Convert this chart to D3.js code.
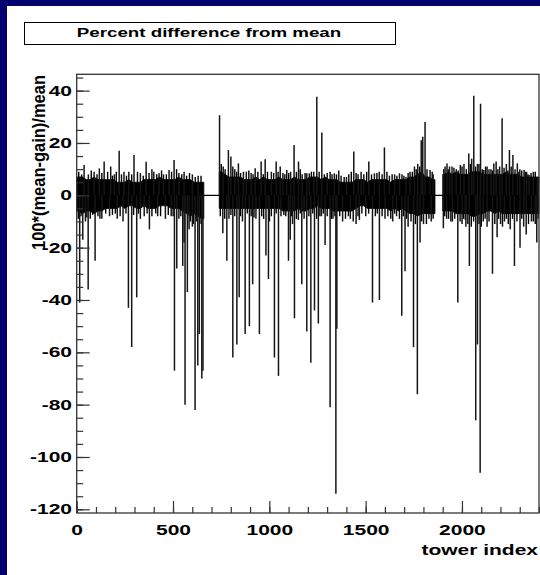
<!DOCTYPE html>
<html>
<head>
<meta charset="utf-8">
<script src="https://cdn.jsdelivr.net/npm/d3@7"></script>
<style>
  html, body { margin: 0; padding: 0; background: #02026e; }
  #chart { width: 540px; height: 575px; }
  text { font-family: "Liberation Sans", Arial, Helvetica, sans-serif; font-weight: bold; fill: #000; }
</style>
</head>
<body>
<div id="chart"></div>
<script>
// tower range and band column width (towers)
const towerRange = [0, 2400]
const bandStep = 20

// dense core of the histogram, one entry per 20 towers (0 = no data)
const bandTop = [
  7,7,6,6,7,6,6,6,
  6,6,5,5,5,6,5,5,5,6,6,
  6,6,7,6,6,6,6,7,6,
  6,6,5,5,5,
  0,0,0,0,
  9,8,7,7,
  7,7,6,6,6,7,6,7,6,6,6,7,6,6,
  6,7,6,6,6,
  7,7,7,6,7,6,6,6,5,
  5,5,5,6,6,6,5,6,
  6,6,6,6,5,6,6,6,6,
  7,7,8,9,7,7,6,
  0,0,
  8,9,8,9,8,8,8,9,9,9,8,8,
  8,8,8,8,9,8,8,8,7,7,7,7,7
]
const bandBot = [
  -6,-7,-6,-6,-7,-6,-6,-5,
  -5,-5,-5,-4,-5,-4,-4,-5,-5,-4,-5,
  -5,-5,-4,-4,-4,-5,-5,-5,-6,
  -7,-8,-7,-8,-9,
  0,0,0,0,
  -5,-5,-5,-5,
  -5,-5,-5,-5,-5,-5,-5,-5,-5,-5,-5,-5,-6,-6,
  -6,-6,-5,-6,-6,
  -5,-5,-4,-5,-5,-5,-6,-6,-6,
  -6,-6,-6,-5,-4,-4,-5,-5,
  -5,-5,-5,-5,-6,-5,-6,-5,-6,
  -7,-7,-8,-7,-7,-7,-7,
  0,0,
  -6,-6,-6,-7,-7,-7,-7,-8,-8,-7,-7,-6,
  -6,-7,-6,-7,-7,-7,-7,-7,-7,-7,-7,-7,-7
]

// single towers sticking out of the band: [tower, value]
const spikesUp = [
  [38,11.6],[60,8],[90,9],[117,10.3],[142,12.9],[176,11],[195,8],[220,17],[245,9],[270,9],[297,15.4],
  [330,8.5],[360,12.8],[400,9],[427,8.4],[450,8],[479,9.7],[505,13.5],[530,8.5],[557,9],[600,8],[630,7.5],
  [741,30.6],[760,11],[787,17.3],[800,14.8],[820,10],[839,12.2],[865,9],[880,9],[905,8.5],[926,10.3],
  [957,12.9],[978,13.8],[1010,9],[1035,12.9],[1056,11],[1070,8.5],[1090,9.7],[1110,9],[1128,19.2],
  [1151,12.9],[1170,8],[1194,8.4],[1207,8.4],[1230,9],[1246,37.7],[1272,24],[1300,8.5],[1337,8.4],
  [1360,9.5],[1400,7],[1438,16.7],[1460,8],[1476,9],[1490,8],[1516,12.9],[1545,8.4],[1570,9],[1597,18.3],
  [1623,7.5],[1650,8],[1675,8.4],[1709,7],[1730,9],[1753,11],[1770,12],[1788,21],[1796,22.4],[1808,28],
  [1834,9.7],[1850,8],[1905,10],[1922,12.2],[1935,11],[1948,11],[1970,10],[1991,11.6],[2010,12],[2035,16],
  [2050,14],[2061,38],[2080,12],[2096,35],[2113,9.7],[2130,11],[2150,10],[2165,12.2],[2177,12.9],[2195,11],
  [2208,29.4],[2230,12],[2246,17.3],[2264,15.4],[2287,12.2],[2300,10],[2322,9.7],[2335,9],[2348,7.8],
  [2370,9],[2391,7]
]
const spikesDown = [
  [15,-41],[31,-17],[45,-10],[59,-36],[95,-25],[130,-9],[170,-8],[210,-9],[240,-10],[268,-43],[285,-58],
  [311,-39],[330,-9],[350,-8],[377,-13],[420,-8],[460,-9],[490,-8],[507,-67],[519,-28],[550,-27],[557,-18],
  [562,-80],[574,-37],[583,-13],[600,-12],[614,-82],[628,-65],[636,-53],[649,-70],[655,-67],
  [758,-14.5],[779,-25],[790,-9],[810,-62],[831,-57],[843,-39],[860,-10],[874,-53],[896,-50],[913,-34],
  [930,-9],[948,-53],[982,-23],[995,-32],[1000,-10],[1026,-62],[1047,-69],[1060,-8],[1099,-25],[1108,-17],
  [1120,-11],[1130,-47],[1150,-9.4],[1168,-34],[1180,-9],[1194,-52],[1215,-64],[1234,-44],[1254,-49],
  [1270,-8],[1289,-19],[1315,-81],[1330,-9],[1345,-114],[1350,-51],[1380,-10],[1420,-9],[1450,-11],
  [1467,-9.4],[1500,-8],[1535,-41],[1571,-40],[1600,-9],[1640,-10],[1660,-8],[1687,-46],[1704,-29],
  [1720,-12],[1748,-58],[1768,-76],[1782,-18],[1800,-11],[1840,-10],
  [1903,-12.6],[1920,-9],[1950,-10],[1978,-41],[2000,-11],[2017,-9.4],[2020,-12],[2038,-27],[2071,-86],
  [2080,-57],[2094,-106],[2110,-10],[2130,-12],[2158,-30],[2182,-16],[2200,-11],[2220,-10],[2250,-13],
  [2272,-27],[2301,-20],[2320,-12],[2333,-15],[2360,-10],[2380,-11],[2388,-18]
]

// smaller excursions that make the band edge ragged: [tower, value]
const fuzzUp = [
  [10,9],[25,8],[75,9.5],[105,8],[130,8.5],[160,9],[185,7.5],[205,9],[232,8],[258,7.5],[285,8],[315,9],
  [345,7.5],[375,8.5],[390,10],[415,8],[440,9.5],[465,8],[492,9],[518,10],[545,8],[570,7.5],[585,8.5],
  [615,7],[645,7.5],
  [750,12],[770,10],[810,11],[830,9],[850,8.5],[893,9.5],[915,8],[940,9],[968,8],[990,9],[1022,8.5],
  [1045,9],[1080,8],[1100,8.5],[1140,9],[1160,10],[1185,8.5],[1218,9],[1258,9],[1285,8],[1315,9],
  [1325,8],[1348,8],[1372,7.5],[1388,7],[1412,8],[1425,9],[1450,8.5],[1505,9],[1530,8],[1558,8.5],
  [1585,8],[1610,9],[1637,8],[1662,7.5],[1688,8],[1698,7.5],[1720,8.5],[1742,9],[1762,10],[1780,11],
  [1818,10],[1845,9],
  [1912,11],[1928,10],[1958,10.5],[1980,9.5],[2000,11],[2022,10],[2043,12],[2070,11],[2088,12],[2105,10],
  [2122,11],[2140,10],[2158,9.5],[2186,10],[2218,10.5],[2238,9.5],[2255,11],[2275,10],[2295,9],[2310,9.5],
  [2328,9],[2342,8],[2358,8.5],[2380,9]
]
const fuzzDown = [
  [8,-9],[22,-8],[52,-8.5],[70,-9],[82,-7.5],[110,-8],[120,-9],[150,-7],[185,-7.5],[200,-7],[225,-8],
  [255,-7],[295,-7.5],[320,-7],[365,-7],[390,-8],[410,-7],[435,-8],[475,-7.5],[500,-8],[530,-9],[540,-8],
  [590,-10],[605,-11],[620,-10],[645,-11],
  [745,-8],[768,-9],[800,-7.5],[820,-8],[850,-8],[885,-7],[905,-8],[920,-8.5],[960,-8],[970,-9],[1010,-8],
  [1035,-7],[1075,-7.5],[1085,-8],[1115,-8],[1140,-9],[1160,-7],[1205,-8],[1225,-7],[1245,-9],[1262,-8],
  [1280,-7],[1300,-8],[1322,-9],[1340,-8],[1365,-8],[1395,-9],[1410,-8],[1435,-10],[1460,-8],[1480,-7],
  [1515,-7],[1550,-8],[1560,-7],[1585,-8],[1615,-8],[1630,-9],[1650,-7],[1675,-9],[1695,-8],[1712,-9],
  [1735,-10],[1758,-11],[1790,-10],[1815,-11],[1828,-9],[1850,-9],
  [1910,-8],[1930,-9],[1942,-10],[1962,-9],[1990,-10],[2008,-9],[2030,-11],[2048,-12],[2060,-10],
  [2088,-11],[2100,-12],[2120,-9],[2140,-10],[2170,-11],[2190,-9],[2210,-12],[2230,-9],[2240,-11],
  [2262,-9],[2285,-10],[2310,-9],[2345,-11],[2370,-10],[2395,-9]
]

const xTicks = [0, 500, 1000, 1500, 2000]
const yTicks = [-120, -100, -80, -60, -40, -20, 0, 20, 40]
const yRange = [-121.4, 46.24]
const titleText = "Percent difference from mean"
const xTitle = "tower index"
const yTitle = "100*(mean-gain)/mean"

if (window.system == undefined) window.system = {}
system.gainPlot = (function() {
  const that = this

  this.div = null
  this.frame = {left: 76.7, top: 74.3, right: 539, bottom: 513}
  this.stretch = 1.5   // the ROOT text is rendered wide

  this.init = function(idDiv) {
    this.div = d3.select(idDiv)
    this.svg = this.div.append("svg")
      .attr("width", 540)
      .attr("height", 575)
    return this
  }

  // band outline: column centres, closed at the column edges next to gaps
  let bandPoints = () => {
    let pts = []
    let n = bandTop.length
    let has = i => i >= 0 && i < n && (bandTop[i] !== 0 || bandBot[i] !== 0)
    for (let i = 0; i < n; i++) {
      if (!has(i)) { pts.push(null); continue }
      let c = {top: bandTop[i], bot: bandBot[i]}
      if (!has(i - 1)) pts.push(Object.assign({t: i * bandStep}, c))
      pts.push(Object.assign({t: (i + 0.5) * bandStep}, c))
      if (!has(i + 1)) pts.push(Object.assign({t: (i + 1) * bandStep}, c))
    }
    return pts
  }

  this.draw = () => {
    const f = that.frame
    const svg = that.svg

    // white pad on the blue slide
    svg.append("rect")
      .attr("x", 7).attr("y", 6)
      .attr("width", 533).attr("height", 569)
      .style("fill", "#fff")

    // title box
    svg.append("rect")
      .attr("x", 24.5).attr("y", 22.5)
      .attr("width", 371).attr("height", 22)
      .style("fill", "none").style("stroke", "#000").style("stroke-width", 1)
    svg.append("text")
      .attr("transform", "translate(209,37) scale(" + that.stretch + ",1)")
      .style("text-anchor", "middle")
      .style("font-size", "12.5px")
      .text(titleText)

    let x = d3.scaleLinear().domain(towerRange).range([f.left, f.right])
    let y = d3.scaleLinear().domain(yRange).range([f.bottom, f.top])

    let g = svg.append("g")

    // flat line where there is no data
    g.append("line")
      .attr("x1", x(towerRange[0])).attr("x2", x(towerRange[1]))
      .attr("y1", y(0)).attr("y2", y(0))
      .style("stroke", "#000").style("stroke-width", 1.2)

    // dense band
    let area = d3.area()
      .defined(d => d !== null)
      .x(d => x(d.t))
      .y0(d => y(d.bot))
      .y1(d => y(d.top))
    g.append("path")
      .datum(bandPoints())
      .attr("d", area)
      .style("fill", "#000")
      .style("stroke", "#000")
      .style("stroke-width", 0.8)

    // single towers
    let spikeLines = (data, cls, width, colour) => {
      g.selectAll("line." + cls)
        .data(data)
        .enter()
        .append("line")
        .attr("class", cls)
        .attr("x1", d => x(d[0] + 0.5)).attr("x2", d => x(d[0] + 0.5))
        .attr("y1", y(0)).attr("y2", d => y(d[1]))
        .style("stroke", colour)
        .style("stroke-width", width)
    }
    spikeLines(fuzzUp.concat(fuzzDown), "fuzz", 1.4, "#000")
    spikeLines(spikesUp.concat(spikesDown), "spike", 1.5, "#151515")

    // axes, ticks pointing into the frame
    let yMinor = d3.range(-120, 46, 5)
    svg.append("g")
      .attr("transform", "translate(" + f.left + ",0)")
      .call(d3.axisLeft(y).tickValues(yMinor).tickSize(-6.5).tickFormat(""))
      .call(a => a.select(".domain").remove())
      .selectAll("line").style("stroke", "#333").style("stroke-width", 1.2)

    let yAxis = svg.append("g")
      .attr("transform", "translate(" + f.left + ",0)")
      .call(d3.axisLeft(y).tickValues(yTicks).tickSize(-13).tickFormat(d => String(d)))
    yAxis.select(".domain").remove()
    yAxis.selectAll("line").style("stroke", "#333").style("stroke-width", 1.2)
    yAxis.selectAll("text")
      .attr("x", -4.7 / that.stretch)
      .attr("transform", "scale(" + that.stretch + ",1)")
      .style("font-size", "14px")
      .style("font-family", "'Liberation Sans', Arial, sans-serif")
      .style("font-weight", "bold")
      .style("fill", "#000")

    let xMinor = d3.range(0, 2401, 100)
    svg.append("g")
      .attr("transform", "translate(0," + f.bottom + ")")
      .call(d3.axisBottom(x).tickValues(xMinor).tickSize(-6).tickFormat(""))
      .call(a => a.select(".domain").remove())
      .selectAll("line").style("stroke", "#333").style("stroke-width", 1.2)

    let xAxis = svg.append("g")
      .attr("transform", "translate(0," + f.bottom + ")")
      .call(d3.axisBottom(x).tickValues(xTicks).tickSize(-12).tickPadding(12).tickFormat(d => String(d)))
    xAxis.select(".domain").remove()
    xAxis.selectAll("line").style("stroke", "#333").style("stroke-width", 1.2)
    xAxis.selectAll("text")
      .attr("transform", "scale(" + that.stretch + ",1)")
      .style("font-size", "14px")
      .style("font-family", "'Liberation Sans', Arial, sans-serif")
      .style("font-weight", "bold")
      .style("fill", "#000")

    // frame
    svg.append("rect")
      .attr("x", f.left).attr("y", f.top)
      .attr("width", f.right - f.left).attr("height", f.bottom - f.top)
      .style("fill", "none").style("stroke", "#333").style("stroke-width", 1.3)

    // axis titles
    svg.append("text")
      .attr("transform", "translate(538,555) scale(" + that.stretch + ",1)")
      .style("text-anchor", "end")
      .style("font-size", "14px")
      .text(xTitle)

    svg.append("text")
      .attr("transform", "translate(44.5,75) scale(1.15,1) rotate(-90)")
      .style("text-anchor", "end")
      .style("font-size", "16.5px")
      .text(yTitle)
  }

  return this
}).call({})

system.gainPlot.init("#chart").draw()
</script>
</body>
</html>
